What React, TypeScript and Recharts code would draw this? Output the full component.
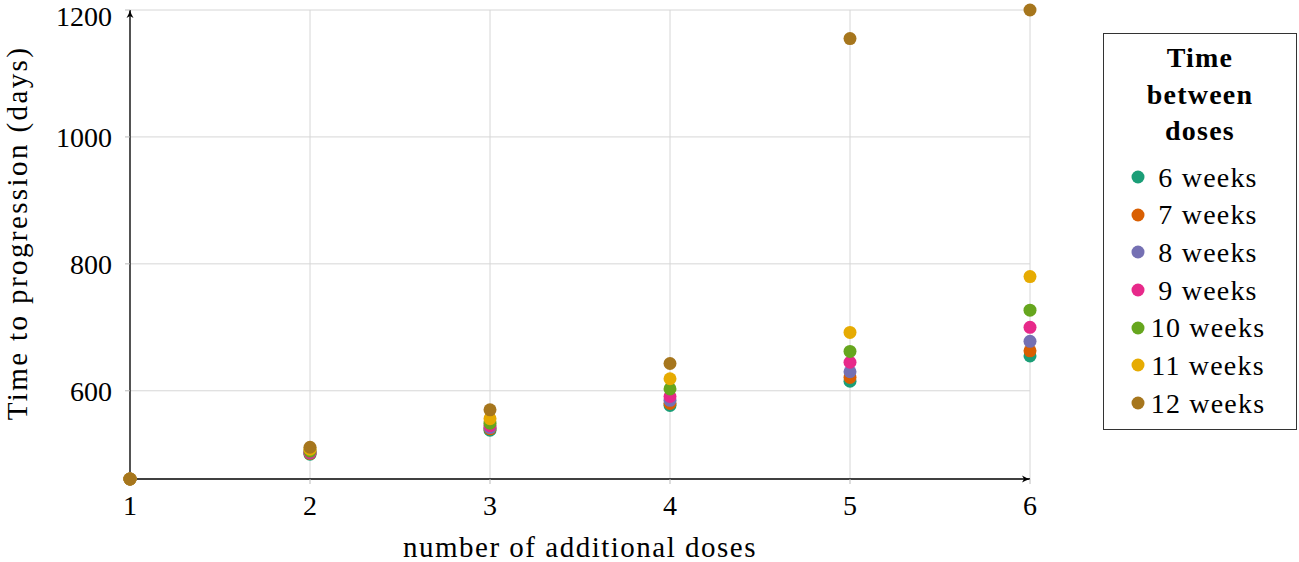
import React from "react";
import { ScatterChart, Scatter, XAxis, YAxis, CartesianGrid, Legend } from "recharts";

const doses = [1, 2, 3, 4, 5, 6];
const seriesNames = ["6 weeks", "7 weeks", "8 weeks", "9 weeks", "10 weeks", "11 weeks", "12 weeks"];
const colors = ["#1b9e77", "#d95f02", "#7570b3", "#e7298a", "#66a61e", "#e6ab02", "#a6761d"];
const weeks6 = [461, 500, 538, 577, 615, 655];
const weeks7 = [461, 501, 540, 580, 621, 663];
const weeks8 = [461, 502, 542, 585, 630, 678];
const weeks9 = [461, 503, 545, 591, 645, 700];
const weeks10 = [461, 505, 549, 603, 662, 727];
const weeks11 = [461, 508, 556, 619, 692, 780];
const weeks12 = [461, 511, 570, 643, 1155, 1200];
const yTicks = [600, 800, 1000, 1200];
const xTicks = [1, 2, 3, 4, 5, 6];

const allSeries = [weeks6, weeks7, weeks8, weeks9, weeks10, weeks11, weeks12];
const FONT = "'Liberation Serif', 'Times New Roman', serif";

const renderLegend = (props: any) => {
  const payload = props.payload || [];
  return (
    <div
      style={{
        boxSizing: "border-box",
        width: 194,
        height: 397,
        border: "1.5px solid #333",
        background: "#fff",
        fontFamily: FONT,
        color: "#000",
        paddingTop: 6,
      }}
    >
      <div style={{ fontWeight: "bold", fontSize: 28, lineHeight: "36.5px", textAlign: "center", letterSpacing: 1.2 }}>
        <div>Time</div>
        <div>between</div>
        <div>doses</div>
      </div>
      <div style={{ marginTop: 9 }}>
        {seriesNames.map((name, i) => {
          const entry = payload.find((p: any) => p.value === name);
          const c = (entry && entry.color) || colors[i];
          return (
            <div key={name} style={{ position: "relative", height: 37.7, lineHeight: "37.7px", fontSize: 28 }}>
              <svg width={14} height={14} style={{ position: "absolute", left: 26.5, top: 11.5 }}>
                <circle cx={7} cy={7} r={6.5} fill={c} />
              </svg>
              <div style={{ marginLeft: 44, width: 120, textAlign: "center", letterSpacing: 1.2, whiteSpace: "nowrap" }}>
                {name}
              </div>
            </div>
          );
        })}
      </div>
    </div>
  );
};

export default function App() {
  return (
    <div style={{ position: "absolute", left: 0, top: 0, width: 1299, height: 562, background: "#fff" }}>
      <svg width={0} height={0} style={{ position: "absolute" }}>
        <defs>
          <marker id="axArrow" viewBox="0 0 10 10" refX="9" refY="5" markerWidth="10" markerHeight="10" markerUnits="userSpaceOnUse" orient="auto-start-reverse">
            <path d="M1,1.5 Q5,4 9,5 Q5,6 1,8.5 L3,5 Z" fill="#000" />
          </marker>
        </defs>
      </svg>
      <ScatterChart width={1299} height={562} margin={{ top: 10, right: 269, bottom: 0, left: 0 }}>
        <CartesianGrid stroke="#d6d6d6" strokeWidth={1} horizontalValues={yTicks} verticalValues={xTicks} />
        <XAxis
          type="number"
          dataKey="x"
          domain={[1, 6]}
          ticks={xTicks}
          height={83}
          axisLine={{ stroke: "#000", strokeWidth: 1.3, markerEnd: "url(#axArrow)" } as any}
          tickLine={{ stroke: "#bbb" }}
          tickSize={5}
          tickMargin={11}
          tick={{ fontSize: 28, fontFamily: FONT, fill: "#000" }}
          label={{
            content: (p: any) => {
              const vb = p.viewBox || {};
              return (
                <text x={vb.x + vb.width / 2} y={557} textAnchor="middle" fontSize={29} fontFamily={FONT} fill="#000" letterSpacing={1.5}>
                  number of additional doses
                </text>
              );
            },
          }}
        />
        <YAxis
          type="number"
          dataKey="y"
          domain={[461, 1200]}
          ticks={yTicks}
          width={130}
          axisLine={{ stroke: "#000", strokeWidth: 1.3, markerStart: "url(#axArrow)" } as any}
          tickLine={{ stroke: "#bbb" }}
          tickSize={5}
          tickMargin={13}
          tick={{ fontSize: 28, fontFamily: FONT, fill: "#000" }}
          label={{
            content: () => {
              const cy = 233;
              const cx = 27;
              return (
                <text x={cx} y={cy} transform={`rotate(-90 ${cx} ${cy})`} textAnchor="middle" fontSize={29} fontFamily={FONT} fill="#000" letterSpacing={2.4}>
                  Time to progression (days)
                </text>
              );
            },
          }}
        />
        <Legend
          content={renderLegend}
          layout="horizontal"
          verticalAlign="middle"
          align="center"
          wrapperStyle={{ position: "absolute", left: 1103, top: 33, width: 194, height: 397 }}
        />
        {allSeries.map((vals, i) => (
          <Scatter
            key={seriesNames[i]}
            name={seriesNames[i]}
            data={doses.map((d, j) => ({ x: d, y: vals[j] }))}
            fill={colors[i]}
            isAnimationActive={false}
            shape={(p: any) => <circle cx={p.cx} cy={p.cy} r={6.5} fill={colors[i]} />}
          />
        ))}
      </ScatterChart>
    </div>
  );
}
